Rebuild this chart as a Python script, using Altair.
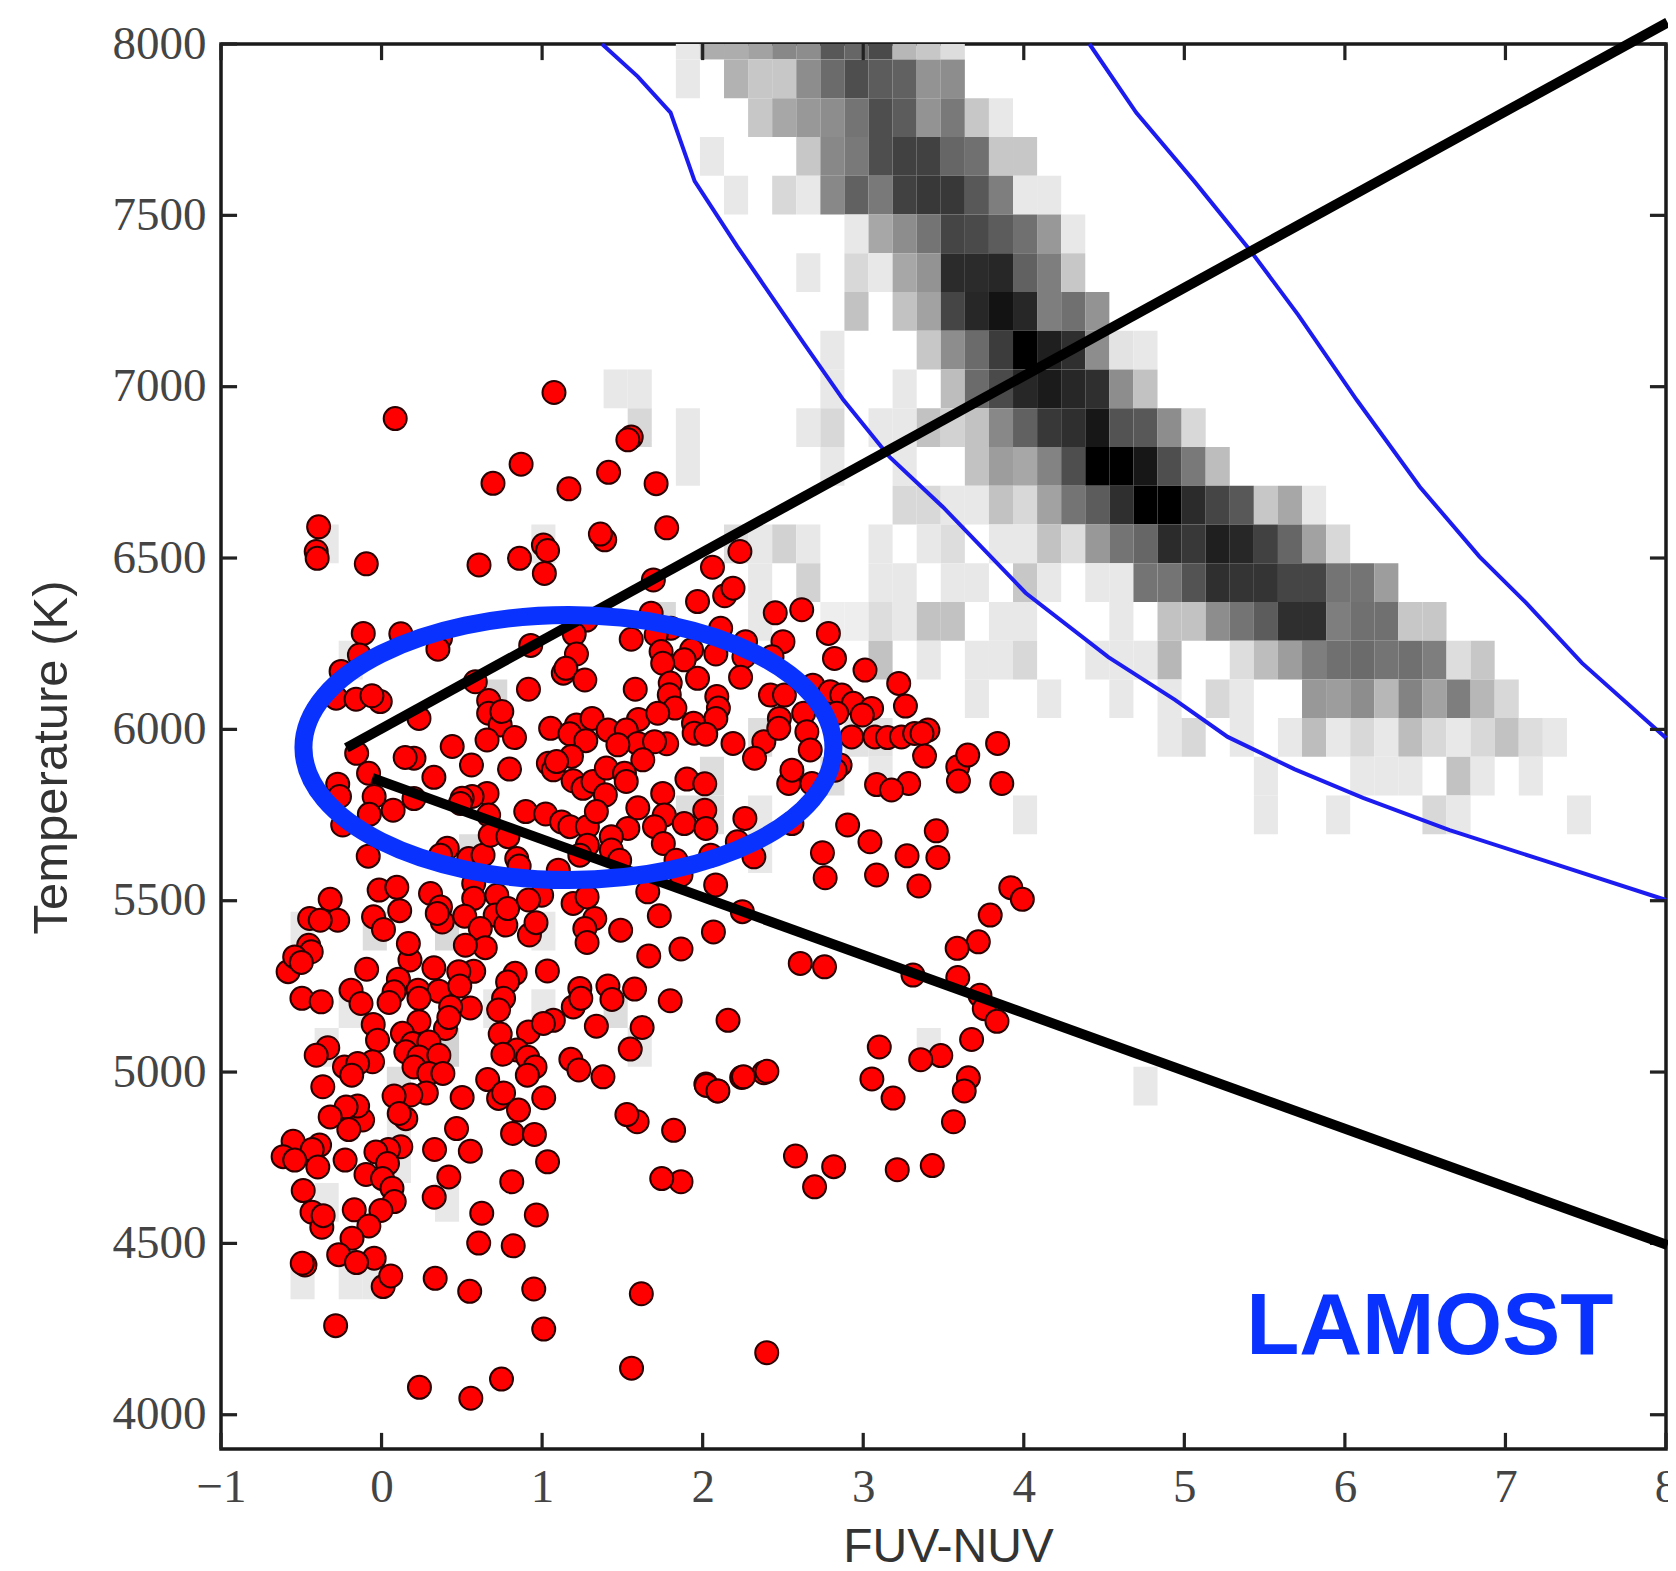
import altair as alt
import pandas as pd

# ---- axis setup
X_TICKS = [-1, 0, 1, 2, 3, 4, 5, 6, 7, 8]
Y_TICKS = [4000, 4500, 5000, 5500, 6000, 6500, 7000, 7500, 8000]
X_DOMAIN = [-1, 8]
Y_DOMAIN = [3900, 8000]
X_TICK_LEN, Y_TICK_LEN = 0.1, 47
X_TICK_HALF, Y_TICK_HALF = 0.01, 4.7
PLOT_W, PLOT_H = 1445, 1405

# ---- 2D histogram: (row, first column, grey levels); 255 = empty cell
COL_ORIGIN, COL_STEP = 1.833, 0.15
ROW_ORIGIN, ROW_STEP = 7955.0, 113.07
HEAT = [
    (-1, 0, [235,180,180,170,145,150,95,110,80,190,205,225]),
    (0, 0, [235,255,185,205,205,150,115,85,100,105,155,150]),
    (1, 3, [205,175,160,150,125,85,100,155,130,205,235]),
    (2, 1, [235]), (2, 5, [205,145,130,85,70,70,110,120,205,205]),
    (3, 2, [235,255,220,235,145,105,130,70,60,60,95,135,235,235]),
    (4, 7, [235,175,150,125,75,80,100,120,160,235]),
    (5, 5, [235,255,220,235,175,155,45,45,40,105,135,205]),
    (6, 7, [200,255,200,170,75,40,15,40,135,120,155]),
    (7, 6, [235,255,255,255,205,150,115,65,0,30,50,150,230,235]),
    (8, -3, [235,235]), (8, 6, [235,255,255,235,255,195,115,80,40,25,40,50,150,200]),
    (9, -2, [220,255,235]), (9, 5, [235,220,255,235,235,200,215,200,145,105,60,50,20,90,95,150,220]),
    (10, 0, [235]), (10, 6, [235]), (10, 9, [235]), (10, 12, [200,165,175,140,85,0,0,20,85,130,195]),
    (11, 9, [220,220,235,235,200,220,170,125,100,50,0,0,45,75,95,205,175,235]),
    (12, -15, [235]), (12, -6, [235]), (12, 2, [225,235,215,235]), (12, 8, [235]),
    (12, 10, [235,225,255,235,235,200,225,160,125,110,45,60,30,40,70,110,170,220]),
    (13, 3, [235]), (13, 5, [215]),
    (13, 8, [235,235,255,235,235,255,205,235,255,235,235,125,125,90,50,55,55,75,75,125,125,165]),
    (14, -1, [220]), (14, 3, [235]),
    (14, 6, [240,240,225,235,200,200,255,235,235,255,255,255,235,255,200,200,150,125,100,50,50,135,120,120,205,205]),
    (15, -14, [235]),
    (15, 8, [200,255,235,255,235,235,220,255,255,235,235,235,190,255,255,225,195,165,135,120,115,125,120,135,225,205]),
    (16, -8, [220]), (16, 12, [235]), (16, 15, [235]), (16, 18, [235]), (16, 20, [235]),
    (16, 22, [220,235,255,255,160,165,150,190,140,170,135,190,220]),
    (17, 3, [225]), (17, 7, [230,230]),
    (17, 20, [235,220,255,235,255,235,195,235,220,235,195,220,235,220,200,225,235]),
    (18, 1, [225]), (18, 6, [225]), (18, 8, [235]), (18, 24, [235]), (18, 28, [235,235,235]), (18, 32, [200,235,255,235]),
    (19, 0, [225,225]), (19, 3, [235]), (19, 14, [235]), (19, 24, [235]), (19, 27, [235]), (19, 31, [220,235]), (19, 37, [235]),
    (20, -9, [225]), (20, 3, [235]),
    (22, -16, [235]), (22, -13, [225]), (22, -10, [220]), (22, -6, [235]),
    (24, -14, [235]), (24, -8, [235]), (24, -6, [235]), (24, -3, [225]),
    (25, -15, [235]), (25, -10, [215]), (25, -2, [235]), (25, 10, [235]),
    (26, -12, [225]), (26, 19, [235]),
    (27, -12, [235]), (28, -12, [235]),
    (29, -15, [235]), (29, -10, [235]),
    (31, -16, [235]), (31, -14, [235,235]),
]

# ---- blue model curves (FUV-NUV, Teff)
LEFT_CURVE_X = [1.373,1.596,1.8,1.95,2.216,2.629,2.877,3.164,3.496,4.012,4.527,4.942,5.27,5.685,6.113,6.652,7.228,8.0]
LEFT_CURVE_T = [8000,7905,7800,7600,7409,7127,6961,6795,6649,6398,6211,6086,5978,5884,5800,5706,5619,5502]
RIGHT_CURVE_X = [4.409,4.7,5.066,5.413,5.71,6.074,6.466,6.838,7.129,7.476,8.0]
RIGHT_CURVE_T = [8000,7800,7597,7396,7209,6961,6708,6504,6369,6194,5975]

# ---- black zoom-out annotation lines
UPPER_LINE_X = [-0.219, 8.01]
UPPER_LINE_T = [5946, 8063]
LOWER_LINE_X = [-0.058, 8.01]
LOWER_LINE_T = [5858, 4495]

# ---- blue ellipse annotation
ELLIPSE_X, ELLIPSE_T = 1.164, 5947
ELLIPSE_PATH = "M-1,0 A1,0.5 0 1,1 1,0 A1,0.5 0 1,1 -1,0 Z"

# ---- red stars (FUV-NUV, Teff)
STARS_TOP = [
    (1.074,6983),(0.085,6907),(1.555,6853),(1.534,6845),(0.869,6774),(0.694,6718),(1.167,6702),(1.414,6750),
    (1.710,6717),(-0.392,6591),(1.776,6588),(1.39,6553),(1.363,6570),(-0.407,6519),(-0.401,6499),(-0.095,6483),
    (0.607,6480),(0.859,6499),(1.008,6538),(1.034,6522),(1.014,6455),(2.232,6519),(2.061,6473),(1.693,6436),
    (2.137,6390),(2.189,6412),(1.968,6373),(-0.114,6280),(0.120,6279),(1.679,6339),(2.112,6295),(1.555,6263),
    (2.267,6256),(-0.138,6217),(0.367,6266),(0.351,6234),(0.929,6245),(1.276,6319),(1.20,6278),(1.214,6220),
    (1.132,6164),(1.148,6178),(1.266,6144),(1.802,6295),(1.71,6276),(1.741,6227),(1.931,6232),(2.082,6220),
    (1.885,6203),(1.751,6193),(2.257,6212),(1.968,6149),(2.236,6152),(-0.252,6169),(0.584,6139),(1.798,6135),
    (1.792,6101),(2.088,6096),(2.098,6062),(1.827,6062),(2.082,6032),(0.915,6117),(1.580,6117),(0.667,6084),
    (0.667,6047),(0.739,6013),(0.749,6052),(-0.283,6091),(-0.159,6088),(-0.008,6081),(-0.060,6098),(0.233,6032),
    (2.452,6340),(2.617,6349),
]
STARS_UPPER_MID = [
    (0.657,5969),(0.828,5976),(1.053,6003),(1.214,6013),(1.311,6032),(1.173,5987),(1.272,5967),(1.41,5998),
    (1.60,6029),(1.72,6047),(1.524,5998),(1.596,5959),(1.472,5955),(1.776,5958),(1.70,5964),(1.627,5911),
    (1.943,6018),(1.947,5989),(2.019,5986),(2.189,5959),(2.381,5964),(2.323,5916),(0.44,5950),(0.202,5916),
    (0.147,5918),(0.56,5896),(0.797,5884),(-0.155,5930),(-0.081,5872),(-0.273,5840),(-0.262,5804),(0.326,5860),
    (1.039,5901),(1.183,5921),(1.07,5882),(1.09,5906),(1.193,5850),(1.255,5828),(1.317,5848),(1.40,5887),
    (1.513,5872),(1.524,5848),(1.902,5855),(2.013,5841),(1.751,5813),(1.394,5809),(0.657,5813),(0.564,5804),
    (0.502,5799),(-0.046,5804),
]
STARS_MID = [
    (-0.076,5752),(0.072,5764),(-0.242,5721),(-0.083,5630),(0.202,5798),(0.491,5784),(0.667,5750),(0.898,5760),
    (1.022,5753),(1.121,5730),(1.173,5716),(1.282,5716),(1.338,5760),(1.534,5711),(1.596,5771),(1.761,5750),
    (1.885,5725),(2.013,5764),(2.02,5711),(1.70,5716),(1.755,5667),(2.263,5740),(2.216,5672),(2.319,5628),
    (2.05,5633),(1.431,5687),(1.282,5662),(1.431,5648),(1.235,5633),(1.483,5618),(1.834,5618),(1.865,5575),
    (0.409,5653),(0.367,5633),(0.543,5623),(0.632,5633),(0.842,5623),(0.857,5601),(1.101,5589),(0.677,5691),
    (0.787,5687),(2.081,5546),(1.658,5526),(-0.015,5531),(0.095,5539),(0.305,5521),(0.113,5471),(-0.05,5453),
    (0.012,5416),(-0.32,5504),(-0.448,5448),(-0.273,5443),(-0.382,5443),(0.367,5482),(0.378,5438),(0.347,5463),
    (0.574,5550),(0.574,5507),(0.518,5455),(0.718,5516),(0.708,5458),(0.774,5429),(0.785,5477),(0.997,5516),
    (0.915,5502),(0.921,5400),(0.962,5436),(0.615,5419),(0.646,5363),(0.522,5370),(1.193,5492),(1.28,5511),
    (1.328,5448),(1.266,5419),(1.28,5378),(1.489,5414),(1.73,5456),(2.067,5409),(2.247,5468),(1.664,5339),
    (1.865,5359),(0.177,5327),(0.167,5375),
]
STARS_LOWER_MID = [
    (-0.454,5370),(-0.438,5351),(-0.582,5293),(-0.541,5336),(-0.50,5320),(-0.093,5300),(0.326,5304),(0.574,5294),
    (0.481,5293),(0.105,5271),(0.078,5234),(0.227,5239),(0.357,5236),(0.487,5251),(-0.19,5239),(-0.128,5200),
    (0.047,5203),(0.233,5215),(0.553,5187),(-0.496,5215),(-0.376,5205),(0.832,5288),(0.785,5263),(0.76,5215),
    (0.729,5181),(1.033,5295),(1.194,5190),(1.235,5244),(1.241,5215),(1.41,5251),(1.435,5212),(1.576,5242),
    (1.798,5208),(2.158,5151),(1.338,5134),(1.623,5130),(1.549,5067),(0.398,5127),(0.43,5190),(0.233,5147),
    (0.419,5159),(-0.052,5139),(-0.025,5093),(1.07,5151),(0.915,5117),(1.008,5142),(0.739,5111),(0.13,5113),
    (0.192,5083),(0.295,5088),(0.151,5059),(0.233,5044),(0.357,5049),(-0.335,5071),(-0.407,5049),(0.842,5064),
    (0.756,5052),(0.91,5043),(-0.056,5030),(-0.231,5015),(-0.149,5025),(-0.186,4991),(0.202,5015),(0.295,4996),
    (0.382,4996),(0.956,5015),(0.908,4991),(1.179,5037),(1.229,5006),(1.379,4986),(0.661,4978),(0.729,4923),
    (0.76,4939),(0.853,4889),(1.01,4925),(-0.366,4957),(2.092,4945),(2.02,4965),(2.243,4984),(2.381,4998),
    (0.279,4939),(0.182,4933),(0.078,4930),(0.502,4926),(0.151,4864),(0.11,4879),(-0.118,4860),(-0.149,4901),
    (-0.221,4898),(-0.32,4869),(-0.204,4832),(0.467,4835),(1.592,4855),(1.528,4876),(0.816,4821),(0.952,4818),
    (1.819,4830),
]
STARS_LOW = [
    (-0.551,4798),(-0.386,4787),(-0.432,4774),(0.12,4782),(0.043,4774),(-0.035,4767),(-0.227,4743),(-0.613,4753),
    (-0.541,4743),(-0.397,4723),(0.33,4774),(0.553,4769),(1.034,4738),(0.037,4733),(-0.097,4701),(0.006,4689),
    (0.419,4694),(0.811,4680),(1.865,4680),(1.745,4689),(0.065,4661),(0.328,4635),(-0.488,4654),(-0.433,4591),
    (-0.372,4547),(-0.364,4581),(-0.17,4598),(0.079,4622),(-0.004,4596),(-0.079,4551),(0.624,4588),(0.964,4583),
    (-0.184,4515),(0.605,4501),(0.82,4493),(-0.267,4467),(-0.046,4457),(-0.156,4444),(-0.477,4437),(-0.494,4442),
    (0.01,4374),(0.057,4405),(0.334,4398),(0.549,4360),(0.948,4367),(1.618,4353),(-0.286,4260),(1.01,4250),
    (0.236,4080),(0.556,4048),(0.747,4104),(1.557,4136),
]
STARS_RIGHT = [
    (2.783,6280),(2.821,6207),(3.011,6173),(3.221,6134),(3.263,6068),(2.5,6256),(2.432,6212),(2.422,6100),
    (2.509,6100),(2.686,6129),(2.794,6110),(2.866,6100),(2.938,6076),(3.052,6061),(2.994,6042),(2.835,6047),
    (2.629,6047),(2.478,6032),(2.474,6003),(2.649,5993),(2.67,5940),(2.928,5978),(3.073,5978),(3.151,5976),
    (3.238,5978),(3.403,5998),(3.32,5988),(3.366,5988),(3.382,5922),(3.837,5959),(3.589,5891),(3.651,5925),
    (3.593,5849),(3.863,5842),(3.083,5839),(3.283,5842),(3.176,5823),(2.536,5842),(2.556,5881),(2.68,5842),
    (2.856,5896),(2.825,5881),(2.556,5725),(2.903,5721),(3.042,5672),(3.455,5704),(3.465,5626),(3.273,5631),
    (2.746,5640),(2.763,5567),(3.083,5575),(3.347,5543),(3.919,5538),(3.991,5504),(3.791,5458),(3.717,5380),
    (3.585,5361),(3.589,5276),(3.31,5283),(2.608,5317),(2.759,5307),(3.727,5224),(3.754,5185),
    (3.675,5095),(3.833,5148),(3.483,5048),(3.358,5036),(3.10,5073),(3.054,4980),(3.186,4924),(3.655,4983),
    (3.629,4945),(3.562,4855),(3.43,4727),(3.212,4715),(2.816,4724),(2.697,4665),(2.578,4755),(2.4,5002),
    (2.254,4986),(2.023,4961),(2.095,4945),(2.399,4181),
]

# ---- text and style
X_TITLE = "FUV-NUV"
Y_TITLE = "Temperature (K)"
LABEL_TEXT, LABEL_X, LABEL_T = "LAMOST", 5.385, 4178
BLUE = "#0a32ff"
CURVE_BLUE = "#1c1cf0"

# ---- tables
cells = []
for row, first, greys in HEAT:
    for i, g in enumerate(greys):
        if g == 255:
            continue
        c = first + i
        cells.append({
            "x": COL_ORIGIN + COL_STEP * c,
            "x2": COL_ORIGIN + COL_STEP * (c + 1),
            "t": min(8000, ROW_ORIGIN - ROW_STEP * row),
            "t2": ROW_ORIGIN - ROW_STEP * (row + 1),
            "g": g,
        })
cells = pd.DataFrame(cells)
stars = pd.DataFrame(STARS_TOP + STARS_UPPER_MID + STARS_MID + STARS_LOWER_MID + STARS_LOW + STARS_RIGHT,
                     columns=["x", "t"])

# inward tick marks on all four sides, as thin bars reaching in from each frame edge
tick_rows = []
for v in X_TICKS:
    for t0, t1 in ((Y_DOMAIN[0], Y_DOMAIN[0] + Y_TICK_LEN), (Y_DOMAIN[1] - Y_TICK_LEN, Y_DOMAIN[1])):
        tick_rows.append({"x": v - X_TICK_HALF, "x2": v + X_TICK_HALF, "t": t0, "t2": t1})
for v in Y_TICKS:
    for x0, x1 in ((X_DOMAIN[0], X_DOMAIN[0] + X_TICK_LEN), (X_DOMAIN[1] - X_TICK_LEN, X_DOMAIN[1])):
        tick_rows.append({"x": x0, "x2": x1, "t": v - Y_TICK_HALF, "t2": v + Y_TICK_HALF})
ticks_df = pd.DataFrame(tick_rows)

SX = alt.Scale(domain=X_DOMAIN, nice=False, zero=False)
SY = alt.Scale(domain=Y_DOMAIN, nice=False, zero=False)

LABEL_STYLE = dict(
    labelFont="Liberation Serif", labelFontSize=47, labelColor="#444444", labelFontWeight="normal",
    domain=False, grid=False, ticks=False, format="d",
    titleFont="Liberation Sans", titleFontWeight="normal", titleColor="#333333",
    titleBaseline="middle", labelFlush=False, labelOverlap=False,
)
AX_X = alt.Axis(values=X_TICKS, labelPadding=15, title=X_TITLE, titleX=727, titleY=98, titleFontSize=48, **LABEL_STYLE)
AX_Y = alt.Axis(values=Y_TICKS, labelPadding=15, title=Y_TITLE, titleX=-170, titleY=713, titleFontSize=49, **LABEL_STYLE)


def X(field="x:Q", axis=None):
    return alt.X(field, scale=SX, axis=axis)


def Y(field="t:Q", axis=None):
    return alt.Y(field, scale=SY, axis=axis)


heat = alt.Chart(cells).mark_rect(strokeWidth=0).encode(
    x=X(axis=AX_X),
    x2="x2:Q",
    y=Y(axis=AX_Y),
    y2="t2:Q",
    color=alt.Color("g:Q", scale=alt.Scale(domain=[0, 255], range=["#000000", "#ffffff"]), legend=None),
)


def curve(xs, ts, color, width):
    df = pd.DataFrame({"x": xs, "t": ts})
    return alt.Chart(df).mark_line(color=color, strokeWidth=width, strokeCap="butt").encode(x=X(), y=Y())


left_curve = curve(LEFT_CURVE_X, LEFT_CURVE_T, CURVE_BLUE, 4)
right_curve = curve(RIGHT_CURVE_X, RIGHT_CURVE_T, CURVE_BLUE, 4)
upper_line = curve(UPPER_LINE_X, UPPER_LINE_T, "#000000", 10)
lower_line = curve(LOWER_LINE_X, LOWER_LINE_T, "#000000", 10)

ticks = alt.Chart(ticks_df).mark_rect(color="#222222", strokeWidth=0).encode(
    x=X(), x2="x2:Q", y=Y(), y2="t2:Q"
)

points = alt.Chart(stars).mark_point(
    shape="circle", filled=True, fill="#ff0000", stroke="#2a0000", strokeWidth=2, size=529, opacity=1
).encode(x=X(), y=Y())

ellipse = alt.Chart(pd.DataFrame({"x": [ELLIPSE_X], "t": [ELLIPSE_T]})).mark_point(
    shape=ELLIPSE_PATH, filled=False, stroke=BLUE, strokeWidth=18, size=530 ** 2, opacity=1
).encode(x=X(), y=Y())

label = alt.Chart(pd.DataFrame({"x": [LABEL_X], "t": [LABEL_T], "s": [LABEL_TEXT]})).mark_text(
    font="Liberation Sans", fontWeight="bold", fontSize=87, color=BLUE, align="left", baseline="alphabetic"
).encode(x=X(), y=Y(), text="s:N")

chart = alt.layer(
    heat, left_curve, right_curve, ticks,
    points, upper_line, lower_line, ellipse, label,
).resolve_axis(x="independent", y="independent").properties(
    width=PLOT_W, height=PLOT_H,
    autosize=alt.AutoSizeParams(type="none"),
    padding={"left": 213, "top": 36, "right": 2, "bottom": 122},
    background="#ffffff",
).configure_view(stroke="#1a1a1a", strokeWidth=3.5)

chart.save("out.html", embed_options={"renderer": "svg", "actions": False})
